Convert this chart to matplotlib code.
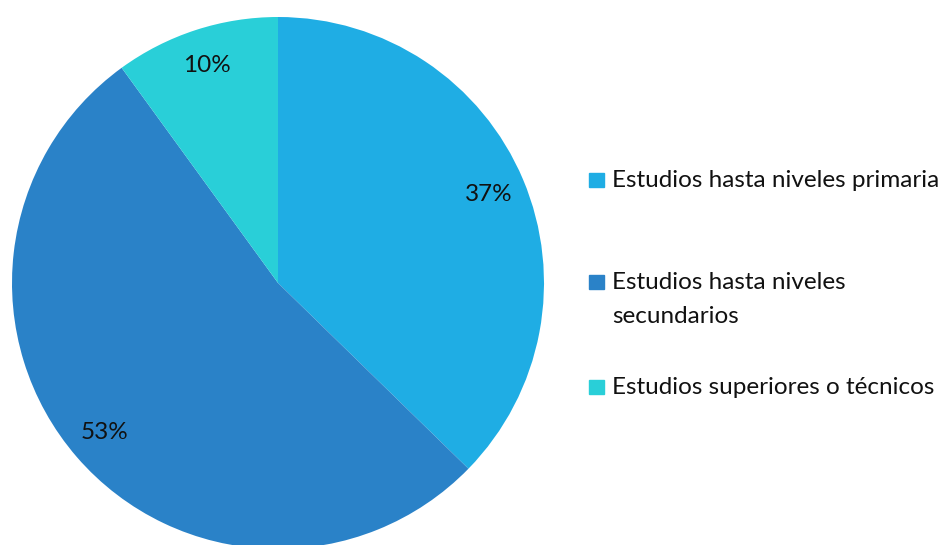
import matplotlib
matplotlib.use('Agg')
import matplotlib.pyplot as plt
from matplotlib.patches import Rectangle

# Data (shares; labels are rounded)
labels = ["Estudios hasta niveles primaria",
          "Estudios hasta niveles\nsecundarios",
          "Estudios superiores o técnicos"]
values = [37.3, 52.7, 10.0]
colors = ["#1fade4", "#2a82c8", "#29cfd8"]

plt.rcParams['font.family'] = ['Lato', 'DejaVu Sans']

W, H = 947, 545
cx, cy, R = 278, 283, 266
FS = 17.5

fig = plt.figure(figsize=(W / 100, H / 100), dpi=100)
ax = fig.add_axes([0, 0, 1, 1])
ax.axis('off')

wedges, texts, autotexts = ax.pie(
    values,
    colors=colors,
    startangle=90,
    counterclock=False,
    radius=1,
    autopct='%1.0f%%',
    pctdistance=0.86,
    wedgeprops=dict(linewidth=0),
    textprops=dict(fontsize=FS, color='#111111'),
)
ax.set_aspect('auto')
ax.set_xlim(-cx / R, (W - cx) / R)
ax.set_ylim(-(H - cy) / R, cy / R)

# Legend drawn by hand (marker aligned with first line of each label)
baselines = [187, 289, 394]
for lab, col, by in zip(labels, colors, baselines):
    fig.patches.append(Rectangle((589 / W, 1 - by / H), 15 / W, 14 / H,
                                 transform=fig.transFigure, color=col))
    for i, line in enumerate(lab.split('\n')):
        fig.text(612 / W, 1 - (by + i * 34) / H, line, fontsize=FS,
                 color='#111111', ha='left', va='baseline')

fig.savefig("out.png", dpi=100)
